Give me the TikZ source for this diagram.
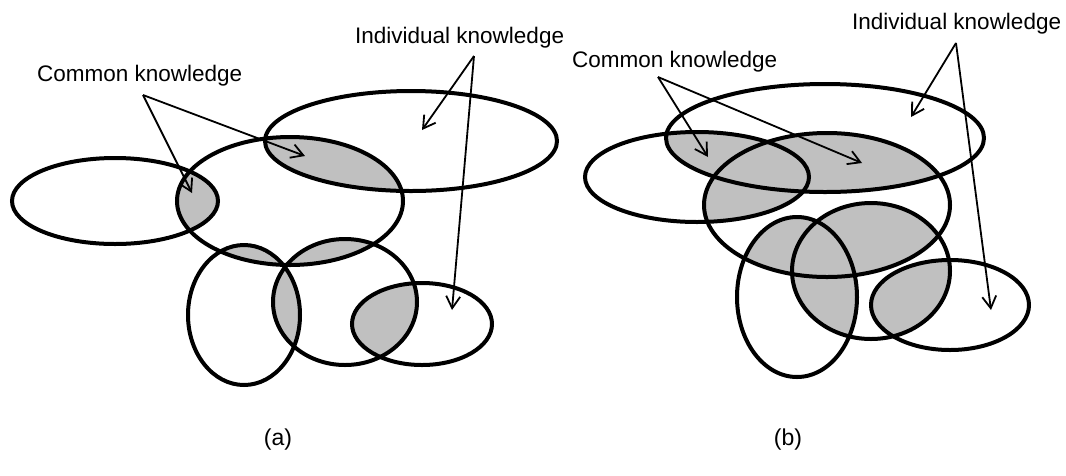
\documentclass[tikz,border=0pt]{standalone}
\usepackage{fontspec}
\setmainfont{Liberation Sans}
\usetikzlibrary{arrows.meta}
\definecolor{lensgray}{HTML}{C0C0C0}
\tikzset{
  ell/.style={draw=black, line width=4pt},
  lens/.style={fill=lensgray},
  ptr/.style={line width=1.8pt, -{Straight Barb[length=12pt,width=14pt,line width=1.8pt]}},
  lbl/.style={font=\fontsize{22.5}{27}\selectfont, inner sep=0pt, anchor=base west},
  sublabel/.style={font=\fontsize{23}{28}\selectfont, inner sep=0pt},
}
% panel (a)
\def\ellAa{(115,201) ellipse [x radius=103pt, y radius=43pt]}
\def\ellAb{(290,201) ellipse [x radius=113pt, y radius=64pt]}
\def\ellAc{(411,141) ellipse [x radius=146pt, y radius=50pt]}
\def\ellAd{(244,315) ellipse [x radius=56pt, y radius=70pt]}
\def\ellAe{(345,302) ellipse [x radius=72pt, y radius=63pt]}
\def\ellAf{(422,324) ellipse [x radius=70pt, y radius=41pt]}
% panel (b)
\def\ellBa{(697,177) ellipse [x radius=112pt, y radius=45pt]}
\def\ellBb{(825,138) ellipse [x radius=159pt, y radius=54pt]}
\def\ellBc{(827,205) ellipse [x radius=123pt, y radius=72pt]}
\def\ellBd{(797,297) ellipse [x radius=60pt, y radius=80pt]}
\def\ellBe{(871,271) ellipse [x radius=79pt, y radius=68pt]}
\def\ellBf{(950,305) ellipse [x radius=79pt, y radius=45pt]}
\newcommand{\lensof}[2]{\begin{scope}\clip #1;\fill[lens] #2;\end{scope}}
\begin{document}
\begin{tikzpicture}[x=1pt,y=-1pt]
\useasboundingbox (0,0) rectangle (1066,475);
\fill[white] (0,0) rectangle (1066,475);

% ---- shaded overlaps (a)
\lensof{\ellAa}{\ellAb}
\lensof{\ellAb}{\ellAc}
\lensof{\ellAb}{\ellAd}
\lensof{\ellAb}{\ellAe}
\lensof{\ellAd}{\ellAe}
\lensof{\ellAe}{\ellAf}
% ---- shaded overlaps (b)
\lensof{\ellBa}{\ellBb}
\lensof{\ellBa}{\ellBc}
\lensof{\ellBb}{\ellBc}
\lensof{\ellBc}{\ellBd}
\lensof{\ellBc}{\ellBe}
\lensof{\ellBd}{\ellBe}
\lensof{\ellBe}{\ellBf}

% ---- outlines
\foreach \e in {\ellAa,\ellAb,\ellAc,\ellAd,\ellAe,\ellAf,\ellBa,\ellBb,\ellBc,\ellBd,\ellBe,\ellBf}
  \draw[ell] \e;

% ---- labels
\node[lbl] (ckA) at (37,81) {Common knowledge};
\node[lbl] (ikA) at (355,43) {Individual knowledge};
\node[lbl] (ckB) at (572,67) {Common knowledge};
\node[lbl] (ikB) at (852,29) {Individual knowledge};
\node[sublabel] (capA) at (278,440) {(a)};
\node[sublabel] (capB) at (788,440) {(b)};

% ---- arrow apexes and tips
\coordinate (ckAo) at (143,95);
\coordinate (ckA1) at (192,193);
\coordinate (ckA2) at (305,156);
\coordinate (ikAo) at (474,56);
\coordinate (ikA1) at (422,130);
\coordinate (ikA2) at (452,310);
\coordinate (ckBo) at (658,77);
\coordinate (ckB1) at (708,157);
\coordinate (ckB2) at (862,163);
\coordinate (ikBo) at (956,43);
\coordinate (ikB1) at (911,117);
\coordinate (ikB2) at (991,310);

\draw[ptr] (ckAo) -- (ckA1);
\draw[ptr] (ckAo) -- (ckA2);
\draw[ptr] (ikAo) -- (ikA1);
\draw[ptr] (ikAo) -- (ikA2);
\draw[ptr] (ckBo) -- (ckB1);
\draw[ptr] (ckBo) -- (ckB2);
\draw[ptr] (ikBo) -- (ikB1);
\draw[ptr] (ikBo) -- (ikB2);
\end{tikzpicture}
\end{document}
